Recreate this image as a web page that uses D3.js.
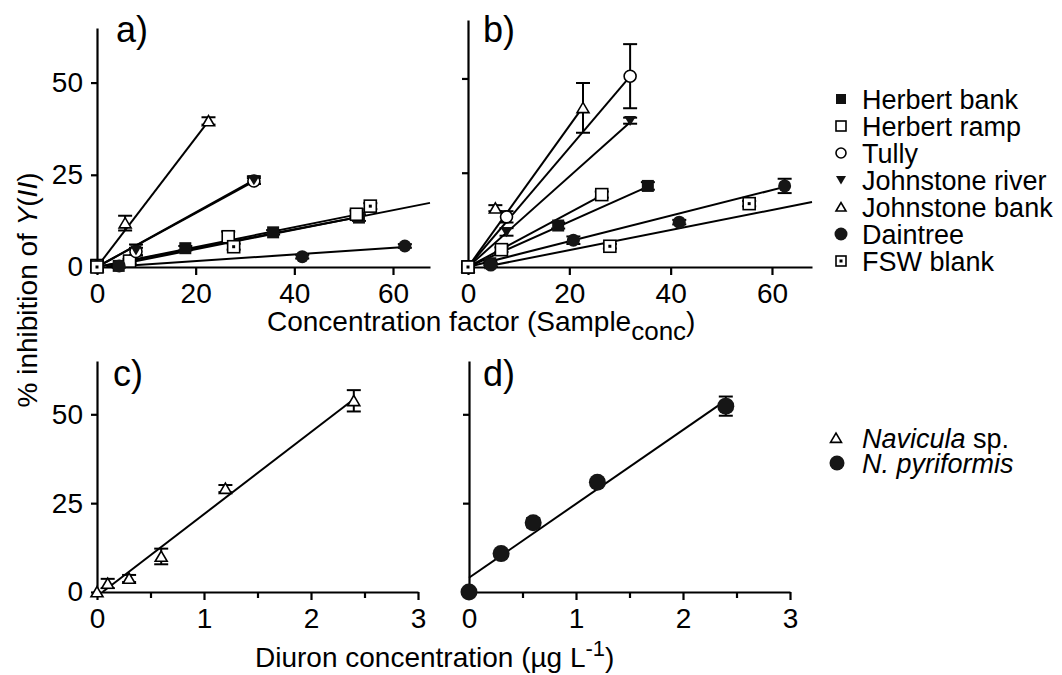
<!DOCTYPE html>
<html>
<head>
<script src="https://cdnjs.cloudflare.com/ajax/libs/d3/7.8.5/d3.min.js"></script>
<style>
    body{
        margin:0;
        background:white;
        font-family:"Liberation Sans",Arial,Helvetica,sans-serif;
    }
</style>
</head>
<body>
<div id="chart"></div>
<script>

    var seriesNames = ["Herbert bank","Herbert ramp","Tully","Johnstone river","Johnstone bank","Daintree","FSW blank"]
    var seriesSymbols = ["fsquare","osquare","ocircle","ftridown","otri","fcircle","fsw"]

    // panel a: [x, % inhibition, sd] for each series, same order as seriesNames
    var panelA = [
        [[0,0,0.4],[4.4,0.3,0.5],[17.9,5.1,0.6],[35.7,9.4,0.6],[53.1,13.4,0.9]],
        [[0,0.4,1.4],[6.6,1.6,0.6],[26.6,8.2,1.4],[52.6,14.3,1.0]],
        [[0,0,0.4],[7.9,4.2,1.0],[31.8,23.3,0.8]],
        [[0,0,0.4],[7.9,4.6,1.5],[31.8,23.6,1.0]],
        [[0,0,0.4],[5.7,11.9,2.0],[22.6,39.6,1.0]],
        [[0,0,0.3],[4.5,0.3,0.3],[41.6,2.8,0.5],[62.4,5.7,0.5]],
        [[0,0,0.4],[27.7,5.5,0.8],[55.4,16.5,0.8]]
    ]
    // regression lines: [slope, intercept, last x]
    var fitA = [[0.255,0,53.1],[0.27,0,52.6],[0.73,0,31.8],[0.74,0,31.8],[1.75,0,22.6],[0.09,-0.2,62.4],[0.265,-0.5,67.5]]

    var panelB = [
        [[0,0,0.4],[4.4,1.0,0.5],[17.8,11.0,0.8],[35.5,21.5,1.0]],
        [[0,0,0.4],[6.6,4.6,0.6],[26.4,19.2,0.8]],
        [[0,0,0.4],[7.6,13.3,1.5],[32,50.6,8.5]],
        [[0,0,0.4],[7.6,9.3,1.0],[32,38.8,0.8]],
        [[0,0,0.4],[5.4,15.6,0.8],[22.7,42.2,6.6]],
        [[0,0,0.3],[4.5,0.5,0.5],[20.8,7.1,1.0],[41.7,11.9,0.6],[62.5,21.5,1.9]],
        [[0,0,0.4],[28,5.5,0.6],[55.5,16.8,0.7]]
    ]
    var fitB = [[0.6,0,35.5],[0.72,0,26.4],[1.58,0,32],[1.2,0,32],[1.87,0,22.7],[0.34,0,62.5],[0.266,-0.85,67.9]]

    // panels c and d: diuron reference
    var naviculaX = [0,0.1,0.3,0.6,1.2,2.4]
    var naviculaY = [0,2.4,3.8,10,29.1,53.8]
    var naviculaErr = [0.3,1.3,1.0,2.2,1.0,3.0]
    var fitC = [23.1,-1.2,2.4]

    var pyriformisX = [0,0.3,0.6,1.2,2.4]
    var pyriformisY = [0,10.8,19.5,30.9,52.3]
    var pyriformisErr = [0.4,0.8,1.3,0.8,2.7]
    var fitD = [20.8,4.0,2.4]

    var ticksConc = [0,20,40,60]
    var ticksInhib = [0,25,50]
    var ticksDiuron = [0,1,2,3]
    var minorDiuron = [0.5,1.5,2.5]

    var fontSize = 28
    var legendSize = 27

    var svg = d3.select("#chart").append("svg")
        .attr("width",1062).attr("height",675)
        .style("background","white")

    function makePanel(xMax,xRange,yMax,yRange,xTicks,minor,yLabels){
        var x = d3.scaleLinear().domain([0,xMax]).range(xRange)
        var y = d3.scaleLinear().domain([0,yMax]).range(yRange)
        var g = svg.append("g")

        if(minor){
            var mAxis = g.append("g").attr("transform","translate(0,"+yRange[0]+")")
                .call(d3.axisBottom(x).tickValues(minor).tickSize(6).tickFormat("").tickSizeOuter(0))
            mAxis.select(".domain").remove()
            mAxis.selectAll("line").attr("stroke-width",2.2)
        }
        var xAxis = g.append("g").attr("transform","translate(0,"+yRange[0]+")")
            .call(d3.axisBottom(x).tickValues(xTicks).tickFormat(d3.format("d")).tickSize(8).tickPadding(8).tickSizeOuter(0))
        var yAxis = g.append("g").attr("transform","translate("+xRange[0]+",0)")
            .call(d3.axisLeft(y).tickValues(ticksInhib).tickSize(6).tickPadding(8).tickSizeOuter(0))
        if(!yLabels){ yAxis.selectAll(".tick text").remove() }

        g.selectAll(".domain").attr("stroke-width",2.2)
        g.selectAll(".tick line").attr("stroke-width",2.2)
        g.selectAll(".tick text").attr("font-size",fontSize).attr("font-family","Liberation Sans, Arial, sans-serif").attr("fill","black")
        return {x:x,y:y,g:g}
    }

    function drawSymbol(g,type,cx,cy,s){
        var h = s/2
        if(type=="fsquare"){
            g.append("rect").attr("x",cx-h).attr("y",cy-h).attr("width",s).attr("height",s).attr("fill","#111")
        }
        else if(type=="osquare"){
            g.append("rect").attr("x",cx-h).attr("y",cy-h).attr("width",s).attr("height",s)
                .attr("fill","white").attr("stroke","black").attr("stroke-width",1.6)
        }
        else if(type=="fsw"){
            g.append("rect").attr("x",cx-h).attr("y",cy-h).attr("width",s).attr("height",s)
                .attr("fill","white").attr("stroke","black").attr("stroke-width",1.6)
            g.append("rect").attr("x",cx-1.5).attr("y",cy-1.5).attr("width",3).attr("height",3).attr("fill","black")
        }
        else if(type=="ocircle"){
            g.append("circle").attr("cx",cx).attr("cy",cy).attr("r",h)
                .attr("fill","white").attr("stroke","black").attr("stroke-width",1.6)
        }
        else if(type=="fcircle"){
            g.append("circle").attr("cx",cx).attr("cy",cy).attr("r",h).attr("fill","#161616")
        }
        else if(type=="ftridown"){
            g.append("path").attr("d","M"+(cx-h)+","+(cy-s*0.4)+"L"+(cx+h)+","+(cy-s*0.4)+"L"+cx+","+(cy+s*0.45)+"Z")
                .attr("fill","#111")
        }
        else if(type=="otri"){
            g.append("path").attr("d","M"+(cx-h)+","+(cy+s*0.4)+"L"+(cx+h)+","+(cy+s*0.4)+"L"+cx+","+(cy-s*0.45)+"Z")
                .attr("fill","white").attr("stroke","black").attr("stroke-width",1.6)
        }
    }

    function drawFit(p,fit){
        var x0 = Math.max(0,-fit[1]/fit[0])
        var line = d3.line().x(function(d){return p.x(d[0])}).y(function(d){return p.y(d[1])})
        p.g.append("path")
            .attr("d",line([[x0,fit[0]*x0+fit[1]],[fit[2],fit[0]*fit[2]+fit[1]]]))
            .attr("fill","none").attr("stroke","black").attr("stroke-width",2)
    }

    function drawErr(p,xv,yv,e){
        var cx = p.x(xv)
        var top = p.y(yv+e), bot = p.y(yv-e)
        if(bot-top<3) return
        p.g.append("line").attr("x1",cx).attr("x2",cx).attr("y1",top).attr("y2",bot).attr("stroke","black").attr("stroke-width",2)
        p.g.append("line").attr("x1",cx-7).attr("x2",cx+7).attr("y1",top).attr("y2",top).attr("stroke","black").attr("stroke-width",2)
        p.g.append("line").attr("x1",cx-7).attr("x2",cx+7).attr("y1",bot).attr("y2",bot).attr("stroke","black").attr("stroke-width",2)
    }

    function drawSeriesPanel(p,data,fits){
        for(var i in fits){ drawFit(p,fits[i]) }
        for(var i in data){
            for(var j in data[i]){
                var d = data[i][j]
                drawErr(p,d[0],d[1],d[2])
            }
        }
        for(var i in data){
            for(var j in data[i]){
                var d = data[i][j]
                var s = seriesSymbols[i]=="fcircle" ? 13 : 12
                drawSymbol(p.g,seriesSymbols[i],p.x(d[0]),p.y(d[1]),s)
            }
        }
    }

    var pa = makePanel(67.5,[97,430],64.8,[267,28],ticksConc,null,true)
    var pb = makePanel(67.9,[468,812],65.5,[267,20],ticksConc,null,false)
    var pc = makePanel(3,[97,418],65,[592,361],ticksDiuron,minorDiuron,true)
    var pd = makePanel(3,[469,790],65,[592,361],ticksDiuron,minorDiuron,false)

    drawSeriesPanel(pa,panelA,fitA)
    drawSeriesPanel(pb,panelB,fitB)

    drawFit(pc,fitC)
    for(var i in naviculaX){ drawErr(pc,naviculaX[i],naviculaY[i],naviculaErr[i]) }
    for(var i in naviculaX){ drawSymbol(pc.g,"otri",pc.x(naviculaX[i]),pc.y(naviculaY[i]),12) }

    drawFit(pd,fitD)
    for(var i in pyriformisX){ drawErr(pd,pyriformisX[i],pyriformisY[i],pyriformisErr[i]) }
    for(var i in pyriformisX){ drawSymbol(pd.g,"fcircle",pd.x(pyriformisX[i]),pd.y(pyriformisY[i]),17) }

    // panel letters
    var letters = [["a)",116,42],["b)",483,42],["c)",113,386],["d)",483,386]]
    for(var i in letters){
        svg.append("text").text(letters[i][0]).attr("x",letters[i][1]).attr("y",letters[i][2])
            .attr("font-size",36)
    }

    // legends
    for(var i in seriesNames){
        var ly = 99+27*i
        drawSymbol(svg,seriesSymbols[i],841,ly,seriesSymbols[i]=="fcircle"?13:10)
        svg.append("text").text(seriesNames[i]).attr("x",862).attr("y",ly+10).attr("font-size",legendSize)
    }
    drawSymbol(svg,"otri",836,438,11)
    svg.append("text").attr("x",862).attr("y",448).attr("font-size",legendSize)
        .call(function(t){
            t.append("tspan").attr("font-style","italic").text("Navicula")
            t.append("tspan").text(" sp.")
        })
    drawSymbol(svg,"fcircle",837,463,15)
    svg.append("text").attr("x",862).attr("y",473).attr("font-size",legendSize)
        .attr("font-style","italic").text("N. pyriformis")

    // axis titles
    svg.append("text").attr("x",267).attr("y",331).attr("font-size",fontSize)
        .call(function(t){
            t.append("tspan").text("Concentration factor (Sample")
            t.append("tspan").attr("dy",9).attr("font-size",26).text("conc")
            t.append("tspan").attr("dy",-9).text(")")
        })
    svg.append("text").attr("x",255).attr("y",667).attr("font-size",fontSize)
        .call(function(t){
            t.append("tspan").text("Diuron concentration (\u00b5g L")
            t.append("tspan").attr("dy",-11).attr("font-size",22).text("-1")
            t.append("tspan").attr("dy",11).text(")")
        })
    svg.append("text").attr("transform","translate(37,290) rotate(-90)")
        .attr("text-anchor","middle").attr("font-size",fontSize)
        .call(function(t){
            t.append("tspan").text("% inhibition of ")
            t.append("tspan").attr("font-style","italic").text("Y")
            t.append("tspan").text("(")
            t.append("tspan").attr("font-style","italic").text("II")
            t.append("tspan").text(")")
        })

</script>
</body>
</html>
